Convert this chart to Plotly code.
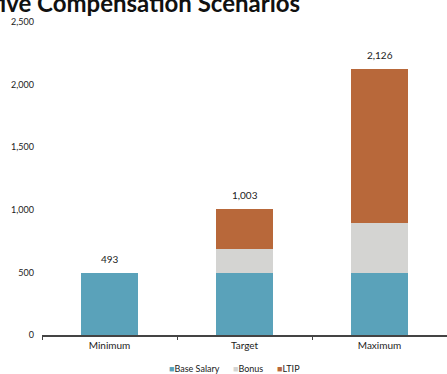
import plotly.graph_objects as go

categories = ["Minimum", "Target", "Maximum"]
base_salary = [493, 493, 493]
bonus = [0, 197, 400]
ltip = [0, 313, 1233]
totals = [493, 1003, 2126]
total_labels = ["493", "1,003", "2,126"]
y_ticks = [0, 500, 1000, 1500, 2000, 2500]
y_tick_labels = ["0", "500", "1,000", "1,500", "2,000", "2,500"]
series_names = ["Base Salary", "Bonus", "LTIP"]
series_colors = ["#5AA2BA", "#D4D4D2", "#B8683A"]

FONT = "Lato"
W, H = 447, 374
ML, MR, MT, MB = 42, 0, 22, 39
PW, PH = W - ML - MR, H - MT - MB


def px_x(px):
    return (px - ML) / PW


def px_y(py):
    return (H - MB - py) / PH


fig = go.Figure()
for vals, name, color in zip([base_salary, bonus, ltip], series_names, series_colors):
    fig.add_trace(go.Bar(x=categories, y=vals, name=name, marker_color=color,
                         marker_line_width=0, showlegend=False))

for cat, tot, lab in zip(categories, totals, total_labels):
    fig.add_annotation(x=cat, y=tot, text=lab, showarrow=False, yanchor="bottom",
                       yshift=6, font=dict(family=FONT, size=10, color="#222"))

fig.update_layout(
    width=W, height=H,
    barmode="stack", bargap=0.585,
    margin=dict(l=ML, r=MR, t=MT, b=MB),
    paper_bgcolor="white", plot_bgcolor="white",
    font=dict(family=FONT, size=9, color="#222"),
    showlegend=False,
    xaxis=dict(showline=True, linecolor="#444", linewidth=1.5, ticks="outside",
               tickson="boundaries", ticklen=3, tickcolor="#444",
               tickfont=dict(size=10, color="#222"), showgrid=False),
    yaxis=dict(range=[0, 2500], tickvals=y_ticks, ticktext=y_tick_labels, showgrid=False,
               zeroline=False, showline=False, ticks="", tickfont=dict(size=9, color="#222"),
               ticklabelstandoff=7),
)

# legend built as text so it stays compact like the reference
legend_text = "&nbsp;&nbsp;&nbsp;&nbsp;&nbsp;&nbsp;".join(
    f"<span style='color:{c}'>■</span>{n}" for n, c in zip(series_names, series_colors))
fig.add_annotation(text=legend_text, xref="paper", yref="paper",
                   x=px_x(234), xanchor="center", y=px_y(368), yanchor="middle",
                   showarrow=False, font=dict(family=FONT, size=9, color="#222"))

fig.add_annotation(text="<b>Executive Compensation Scenarios</b>", xref="paper", yref="paper",
                   x=px_x(302), xanchor="right", y=px_y(19), yanchor="bottom", showarrow=False,
                   font=dict(family=FONT, size=24, color="#111"))
fig.write_html("out.html")
